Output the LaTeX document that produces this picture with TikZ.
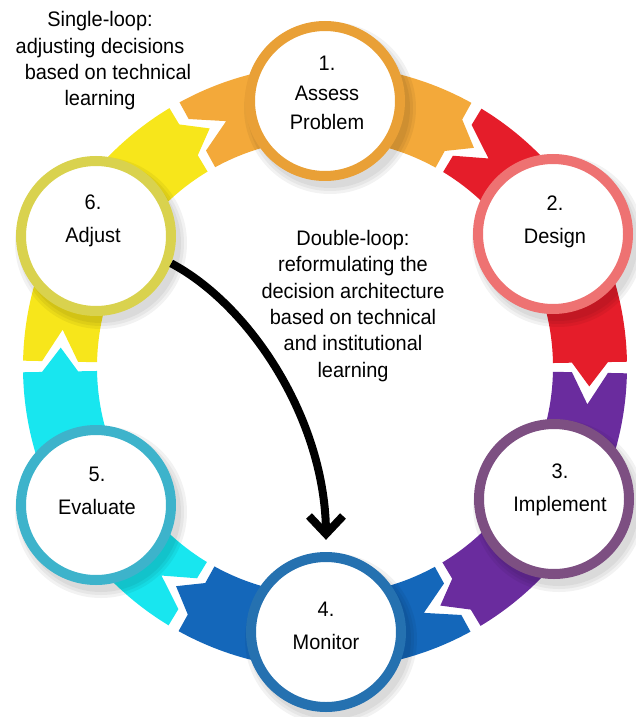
\documentclass[tikz,border=0pt]{standalone}
\usepackage{fontspec}
\setmainfont{Liberation Sans}[FakeStretch=0.95]
\usetikzlibrary{arrows.meta}
\definecolor{bOrange}{HTML}{F3A93A}
\definecolor{rOrange}{HTML}{E9A036}
\definecolor{bRed}{HTML}{E51D2A}
\definecolor{rRed}{HTML}{EE7272}
\definecolor{bPurple}{HTML}{6A2C9E}
\definecolor{rPurple}{HTML}{7D4F82}
\definecolor{bBlue}{HTML}{1467BA}
\definecolor{rBlue}{HTML}{2571B0}
\definecolor{bCyan}{HTML}{18E6EF}
\definecolor{rCyan}{HTML}{3DB3CB}
\definecolor{bYellow}{HTML}{F7E61B}
\definecolor{rYellow}{HTML}{D9D24E}
\def\Ro{302}\def\Ri{228}\def\Rho{283}\def\Rhi{247}\def\Rm{265}
\newcommand\bandpiece[3]{%
  \fill[#1] (#2:\Ro) arc[start angle=#2, end angle=#3, radius=\Ro]
    -- (#3:\Rho) -- ({#3-5.2}:\Rm) -- (#3:\Rhi) -- (#3:\Ri)
    arc[start angle=#3, end angle=#2, radius=\Ri]
    -- (#2:\Rhi) -- ({#2-6.9}:\Rm) -- (#2:\Rho) -- cycle;}
\newcommand\softshadow[1]{%
  \fill[black, opacity=0.05] ([shift={(5,7)}]#1) circle[radius=86];
  \fill[black, opacity=0.05] ([shift={(5,7)}]#1) circle[radius=83];
  \fill[black, opacity=0.05] ([shift={(5,7)}]#1) circle[radius=80];}
\tikzset{
  stepcircle/.style={circle, draw=#1, line width=10pt, fill=white, minimum size=150pt, inner sep=0pt},
  lblthree/.style={align=center, font=\fontsize{21}{29.5}\selectfont, inner sep=0pt},
  lbltwo/.style={align=center, font=\fontsize{21}{33}\selectfont, inner sep=0pt},
  notetext/.style={align=center, font=\fontsize{21}{26.3}\selectfont, inner sep=0pt},
  loopline/.style={line width=8pt},
  loophead/.style={line width=8pt, line join=miter},
}
\begin{document}
\begin{tikzpicture}[x=1pt, y=-1pt]
\useasboundingbox (0,0) rectangle (636,717);
% ring bands
\begin{scope}[shift={(325,367)}, yscale=-1]
  \bandpiece{bOrange}{118.8}{61}
  \bandpiece{bRed}{58.8}{1}
  \bandpiece{bPurple}{-1.2}{-59}
  \bandpiece{bBlue}{-61.2}{-119}
  \bandpiece{bCyan}{-121.2}{-179}
  \bandpiece{bYellow}{178.8}{121}
\end{scope}
% shadows
\softshadow{325,101}
\softshadow{553,234}
\softshadow{554,499}
\softshadow{326,632}
\softshadow{96,505}
\softshadow{96,236}
% circles
\node[stepcircle=rOrange] (c1) at (325,101) {};
\node[stepcircle=rRed] (c2) at (553,234) {};
\node[stepcircle=rPurple] (c3) at (554,499) {};
\node[stepcircle=rBlue] (c4) at (326,632) {};
\node[stepcircle=rCyan] (c5) at (96,505) {};
\node[stepcircle=rYellow] (c6) at (96,236) {};
% circle texts
\node[lblthree] (t1) at (327,93) {1.\\Assess\\Problem};
\node[lbltwo] (t2) at (555,222) {2.\\Design};
\node[lbltwo] (t3) at (560,490) {3.\\Implement};
\node[lbltwo] (t4) at (326,626) {4.\\Monitor};
\node[lbltwo] (t5) at (97,491) {5.\\Evaluate};
\node[lbltwo] (t6) at (93,221) {6.\\Adjust};
% notes
\node[notetext] (single) at (100,61) {Single-loop:\\adjusting decisions\\\hspace*{16pt}based on technical\\learning};
\node[notetext] (double) at (353,306) {Double-loop:\\reformulating the\\decision architecture\\based on technical\\and institutional\\learning};
% double-loop arrow
\coordinate (tip) at ([yshift=18pt]c4.north);
\draw[loopline] (c6.-20) .. controls (250,305) and (326,420) .. (tip);
\draw[loophead] ([shift={(-17,-18)}]tip) -- (tip) -- ([shift={(17,-18)}]tip);
\end{tikzpicture}
\end{document}
